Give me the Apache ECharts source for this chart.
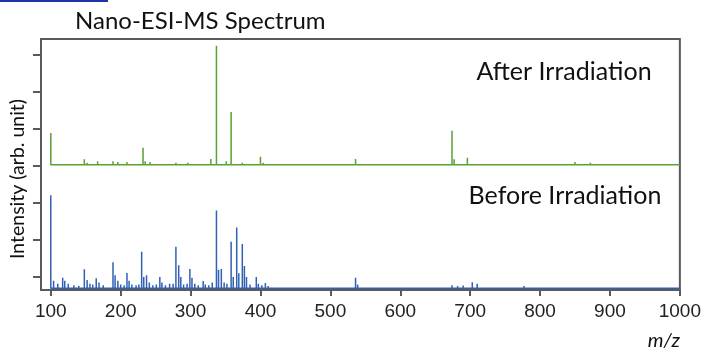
<!DOCTYPE html>
<html>
<head>
<meta charset="utf-8">
<script src="https://cdn.jsdelivr.net/npm/echarts@6/dist/echarts.min.js"></script>
<style>
  html, body { margin: 0; padding: 0; background: #fff; }
  #chart { width: 704px; height: 354px; }
</style>
</head>
<body>
<div id="chart"></div>
<script>
// x axis ticks (m/z)
const mzTicks = [100, 200, 300, 400, 500, 600, 700, 800, 900, 1000]
// y axis ticks (arb. unit, one unit per tick)
const intensityTicks = [1, 2, 3, 4, 5, 6, 7]

// After irradiation (green) peaks: m/z and height above its baseline
const afterMz = [100, 118, 132, 148, 152, 167, 189, 196, 209, 227, 232, 235, 242, 258, 279, 296, 314, 329, 337, 351, 358, 374, 385, 400, 404, 420, 450, 480, 536, 540, 556, 600, 630, 660, 674, 677, 696, 720, 760, 800, 850, 872, 930, 980]
const afterH  = [0.86, 0.05, 0.04, 0.15, 0.06, 0.10, 0.10, 0.08, 0.08, 0.05, 0.46, 0.10, 0.08, 0.05, 0.06, 0.06, 0.05, 0.16, 3.22, 0.10, 1.43, 0.06, 0.04, 0.22, 0.06, 0.04, 0.03, 0.04, 0.16, 0.05, 0.03, 0.03, 0.03, 0.04, 0.92, 0.15, 0.19, 0.03, 0.02, 0.02, 0.08, 0.06, 0.02, 0.02]

// Before irradiation (blue) peaks
const beforeMz = [100, 104, 110, 117, 120, 125, 133, 140, 148, 152, 156, 160, 165, 169, 175, 181, 189, 192, 196, 200, 205, 209, 212, 216, 222, 226, 230, 233, 237, 241, 246, 251, 256, 259, 264, 270, 275, 279, 283, 286, 290, 295, 299, 302, 306, 311, 318, 321, 326, 331, 337, 340, 344, 348, 352, 358, 361, 366, 369, 374, 377, 380, 385, 394, 397, 402, 407, 411, 418, 425, 440, 455, 470, 490, 515, 536, 539, 545, 569, 590, 620, 660, 674, 682, 690, 703, 710, 716, 745, 777, 782, 820, 870, 900, 950]
const beforeH  = [2.51, 0.20, 0.12, 0.28, 0.20, 0.12, 0.08, 0.06, 0.51, 0.22, 0.12, 0.10, 0.27, 0.15, 0.08, 0.05, 0.70, 0.35, 0.20, 0.10, 0.08, 0.41, 0.20, 0.10, 0.08, 0.10, 0.98, 0.30, 0.35, 0.15, 0.08, 0.10, 0.30, 0.15, 0.08, 0.12, 0.12, 1.12, 0.62, 0.30, 0.10, 0.12, 0.52, 0.28, 0.12, 0.08, 0.19, 0.10, 0.08, 0.15, 2.10, 0.50, 0.52, 0.15, 0.12, 1.25, 0.30, 1.64, 0.40, 1.19, 0.60, 0.30, 0.10, 0.30, 0.12, 0.08, 0.14, 0.06, 0.05, 0.04, 0.04, 0.03, 0.03, 0.02, 0.03, 0.28, 0.10, 0.04, 0.05, 0.03, 0.03, 0.03, 0.08, 0.06, 0.07, 0.16, 0.12, 0.05, 0.03, 0.06, 0.03, 0.02, 0.02, 0.02, 0.02]

// baselines of the two stacked traces
const afterBase = 4.03
const beforeBase = 0.7

// spikes: baseline -> peak -> baseline for every peak
function spectrum(mz, h, base) {
  const pts = [[100, base]]
  mz.forEach((m, i) => {
    pts.push([m, base], [m, base + h[i]], [m, base])
  })
  pts.push([1000, base])
  return pts
}

const chart = echarts.init(document.getElementById('chart'))

const axisColor = '#5a5a5a'

chart.setOption({
  animation: false,
  backgroundColor: '#fff',
  title: {
    text: 'Nano-ESI-MS Spectrum',
    left: 70,
    top: 4,
    textStyle: { fontFamily: 'Lato', fontWeight: 'normal', fontSize: 24, color: '#111' }
  },
  grid: {
    left: 41, right: 23, top: 39, bottom: 64,
    show: true,
    borderColor: axisColor,
    borderWidth: 2
  },
  xAxis: {
    type: 'value',
    min: 86,
    max: 1000,
    axisLine: { lineStyle: { color: axisColor, width: 2 } },
    axisTick: { customValues: mzTicks, length: 6, lineStyle: { color: axisColor, width: 2 } },
    axisLabel: {
      customValues: mzTicks,
      formatter: v => String(v),
      margin: 12,
      fontFamily: 'Liberation Sans',
      fontSize: 19,
      color: '#222'
    },
    splitLine: { show: false }
  },
  yAxis: {
    type: 'value',
    min: 0.65,
    max: 7.43,
    axisLine: { show: true, lineStyle: { color: axisColor, width: 2 } },
    axisTick: { show: true, customValues: intensityTicks, length: 8, lineStyle: { color: axisColor, width: 2 } },
    axisLabel: { show: false },
    splitLine: { show: false }
  },
  graphic: [
    { type: 'rect', shape: { x: 0, y: 0, width: 108, height: 2 }, style: { fill: '#2233a8' } },
    {
      type: 'text', x: 18, y: 179, rotation: Math.PI / 2,
      style: { text: 'Intensity (arb. unit)', font: '19.5px Lato', fill: '#111', align: 'center', verticalAlign: 'middle' }
    },
    {
      type: 'text', x: 564, y: 72,
      style: { text: 'After Irradiation', font: '25px Lato', fill: '#111', align: 'center', verticalAlign: 'middle' }
    },
    {
      type: 'text', x: 565, y: 196,
      style: { text: 'Before Irradiation', font: '25px Lato', fill: '#111', align: 'center', verticalAlign: 'middle' }
    },
    {
      type: 'text', x: 680, y: 341,
      style: { text: 'm/z', font: 'italic 20px Lato', fill: '#111', align: 'right', verticalAlign: 'middle' }
    }
  ],
  series: [
    {
      name: 'After Irradiation',
      type: 'line',
      data: spectrum(afterMz, afterH, afterBase),
      symbol: 'none',
      lineStyle: { color: '#5aa032', width: 1.5 }
    },
    {
      name: 'Before Irradiation',
      type: 'line',
      data: spectrum(beforeMz, beforeH, beforeBase),
      symbol: 'none',
      lineStyle: { color: '#3160b4', width: 1.5 }
    }
  ]
})
</script>
</body>
</html>
